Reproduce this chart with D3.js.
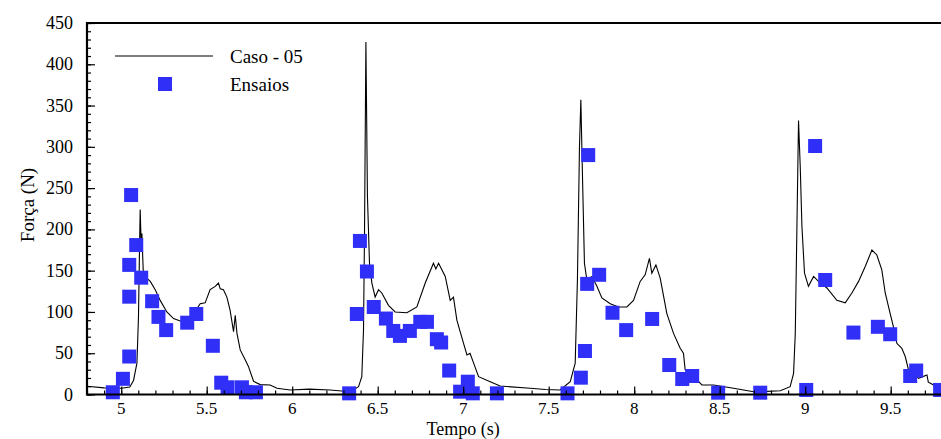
<!DOCTYPE html>
<html>
<head>
<meta charset="utf-8">
<script src="https://cdn.jsdelivr.net/npm/d3@7"></script>
<style>
  body { margin: 0; background: #fff; }
  svg text { font-family: "Liberation Serif", "Times New Roman", serif; }
</style>
</head>
<body>
<svg></svg>
<script>
//Setting
const width = 941;
const height = 439;

// simulated force curve (Caso - 05)
const lineT = [4.80, 4.90, 5.00, 5.05, 5.072, 5.092, 5.101, 5.107, 5.111, 5.117, 5.121, 5.130, 5.150, 5.170,
  5.199, 5.228, 5.267, 5.306, 5.345, 5.384, 5.423, 5.462, 5.491, 5.520, 5.550, 5.569, 5.579, 5.598, 5.618,
  5.637, 5.657, 5.667, 5.677, 5.696, 5.725, 5.744, 5.774, 5.813, 5.871, 5.911, 5.988, 6.10, 6.222, 6.339,
  6.388, 6.407, 6.417, 6.423, 6.431, 6.440, 6.452, 6.466, 6.485, 6.505, 6.524, 6.563, 6.602, 6.671, 6.729,
  6.778, 6.826, 6.840, 6.856, 6.895, 6.924, 6.943, 6.963, 7.002, 7.022, 7.040, 7.061, 7.090, 7.158, 7.216,
  7.392, 7.48, 7.567, 7.626, 7.655, 7.668, 7.680, 7.688, 7.698, 7.709, 7.723, 7.753, 7.782, 7.811, 7.860,
  7.908, 7.957, 7.996, 8.035, 8.064, 8.089, 8.103, 8.127, 8.152, 8.191, 8.230, 8.269, 8.288, 8.298, 8.347,
  8.396, 8.464, 8.581, 8.698, 8.737, 8.854, 8.912, 8.932, 8.942, 8.951, 8.961, 8.971, 8.981, 8.996, 9.019,
  9.049, 9.078, 9.127, 9.185, 9.234, 9.273, 9.312, 9.351, 9.390, 9.419, 9.448, 9.468, 9.497, 9.516, 9.536,
  9.565, 9.585, 9.604, 9.663, 9.712, 9.720, 9.751, 9.770, 9.80];
const lineF = [10, 8, 7.5, 9, 17, 38, 94, 175, 224, 180, 195, 143, 141, 137,
  127, 114, 100, 92, 89, 90, 98, 110, 111, 127, 131, 135, 128, 127, 118,
  102, 76, 96, 74, 54, 42, 34, 16, 12, 11.5, 7.5, 5.5, 6.5, 5.5, 3.4,
  9.5, 21.6, 78, 199, 427, 240, 159, 135, 118, 127, 123, 108, 100, 99, 106,
  135, 159, 152, 159, 143, 114, 118, 90, 62, 48, 50, 38, 21.6, 15.5, 10.3,
  7.5, 6, 5.5, 15.5, 38, 139, 300, 357, 260, 159, 139, 143, 131, 117, 110,
  106, 106, 114, 137, 145, 165, 147, 157, 141, 98, 74, 56, 50, 30, 22,
  11.5, 11.5, 7.5, 3.4, 3.4, 4.6, 9.5, 25.6, 74, 195, 332, 276, 203, 147, 131,
  143, 137, 129, 114, 111, 123, 137, 155, 175, 169, 151, 123, 98, 82, 62,
  56, 46, 30, 19.6, 23.6, 15, 11.5, 5.5, 2];

// experimental points (Ensaios)
const testT = [4.951, 5.010, 5.047, 5.047, 5.047, 5.058, 5.088, 5.117, 5.181, 5.218, 5.263, 5.386, 5.439,
  5.536, 5.585, 5.622, 5.706, 5.729, 5.788,
  6.333, 6.378, 6.396, 6.437, 6.477, 6.548, 6.591, 6.630, 6.688, 6.749, 6.788, 6.846, 6.871, 6.918,
  6.982, 7.027, 7.056, 7.197,
  7.610, 7.688, 7.712, 7.725, 7.731, 7.795, 7.873, 7.953, 8.105, 8.205, 8.281, 8.339, 8.491, 8.737,
  9.006, 9.058, 9.117, 9.282, 9.425, 9.497, 9.614, 9.649, 9.789];
const testF = [2.7, 19, 46, 118.5, 157, 241.6, 181, 141.5, 113, 94, 78, 87, 97.5,
  59, 14.3, 8.7, 8.7, 2.7, 2.7,
  1.4, 97.5, 186, 149, 106, 92, 77, 71, 77, 88, 88, 67, 63, 29,
  3.4, 15.5, 1.4, 1.4,
  1.4, 20.4, 52.7, 134, 290, 145, 99, 78, 91.5, 35.7, 18.8, 22.4, 2.2, 2.2,
  5.5, 301, 138.7, 75, 82, 73, 22.4, 29, 5.5];

const xTickLabels = [5, 5.5, 6, 6.5, 7, 7.5, 8, 8.5, 9, 9.5];
const yTickLabels = [0, 50, 100, 150, 200, 250, 300, 350, 400, 450];

const mLeft = 87, mRight = 942, mTop = 23, mBottom = 394.5;

const svg = d3.select("svg")
            .attr("width", width)
            .attr("height", height);

const x = d3.scaleLinear().domain([4.8, 9.8]).range([mLeft, mRight]);
const y = d3.scaleLinear().domain([0, 450]).range([mBottom, mTop]);

const blue = "#2f2ff8";

// force curve
const line = d3.line()
    .x((d, i) => x(lineT[i]))
    .y((d, i) => y(lineF[i]));

svg.append("path")
    .datum(lineT)
    .attr("d", line)
    .attr("fill", "none")
    .attr("stroke", "#000")
    .attr("stroke-width", 1.1);

// squares
svg.append("g")
    .selectAll("rect")
    .data(testT)
    .enter()
    .append("rect")
    .attr("x", (d) => x(d) - 7)
    .attr("y", (d, i) => y(testF[i]) - 7)
    .attr("width", 14)
    .attr("height", 14)
    .style("fill", blue);

// axes, ticks inside
const xAxis = d3.axisTop(x)
    .tickValues(xTickLabels)
    .tickSize(8)
    .tickFormat("");
const xMinor = d3.axisTop(x)
    .tickValues(d3.range(48, 99).map((d) => d / 10))
    .tickSize(4)
    .tickFormat("");

svg.append("g").attr("transform", `translate(0,${mBottom})`).call(xMinor);
svg.append("g").attr("transform", `translate(0,${mBottom})`).call(xAxis);

const yAxis = d3.axisRight(y)
    .tickValues(yTickLabels)
    .tickSize(8)
    .tickFormat("");
const yMinor = d3.axisRight(y)
    .tickValues(d3.range(0, 451, 10))
    .tickSize(4)
    .tickFormat("");

svg.append("g").attr("transform", `translate(${mLeft},0)`).call(yMinor);
svg.append("g").attr("transform", `translate(${mLeft},0)`).call(yAxis);

svg.selectAll(".domain").remove();
svg.selectAll(".tick line").attr("stroke", "#000").attr("stroke-width", 1.2);

// frame
svg.append("path")
    .attr("d", `M${mRight + 5},${mTop}H${mLeft}V${mBottom}H${mRight + 5}`)
    .attr("fill", "none")
    .attr("stroke", "#000")
    .attr("stroke-width", 2.2);

// tick labels
svg.append("g")
    .selectAll("text")
    .data(xTickLabels)
    .enter()
    .append("text")
    .attr("x", (d) => x(d))
    .attr("y", 414)
    .attr("text-anchor", "middle")
    .style("font-size", "17px")
    .text((d) => d);

svg.append("g")
    .selectAll("text")
    .data(yTickLabels)
    .enter()
    .append("text")
    .attr("x", 73)
    .attr("y", (d) => y(d) + 6)
    .attr("text-anchor", "end")
    .style("font-size", "18px")
    .text((d) => d);

// axis titles
svg.append("text")
    .attr("x", x(7))
    .attr("y", 435)
    .attr("text-anchor", "middle")
    .style("font-size", "18px")
    .text("Tempo (s)");

svg.append("text")
    .attr("transform", "translate(34,205) rotate(-90)")
    .attr("text-anchor", "middle")
    .style("font-size", "19px")
    .text("Força (N)");

// legend
const legend = svg.append("g");
legend.append("line")
    .attr("x1", 115).attr("x2", 213)
    .attr("y1", 56).attr("y2", 56)
    .attr("stroke", "#000")
    .attr("stroke-width", 1.2);
legend.append("text")
    .attr("x", 230).attr("y", 63)
    .style("font-size", "19px")
    .text("Caso - 05");
legend.append("rect")
    .attr("x", 158).attr("y", 77)
    .attr("width", 14).attr("height", 14)
    .style("fill", blue);
legend.append("text")
    .attr("x", 230).attr("y", 91)
    .style("font-size", "19px")
    .text("Ensaios");
</script>
</body>
</html>
